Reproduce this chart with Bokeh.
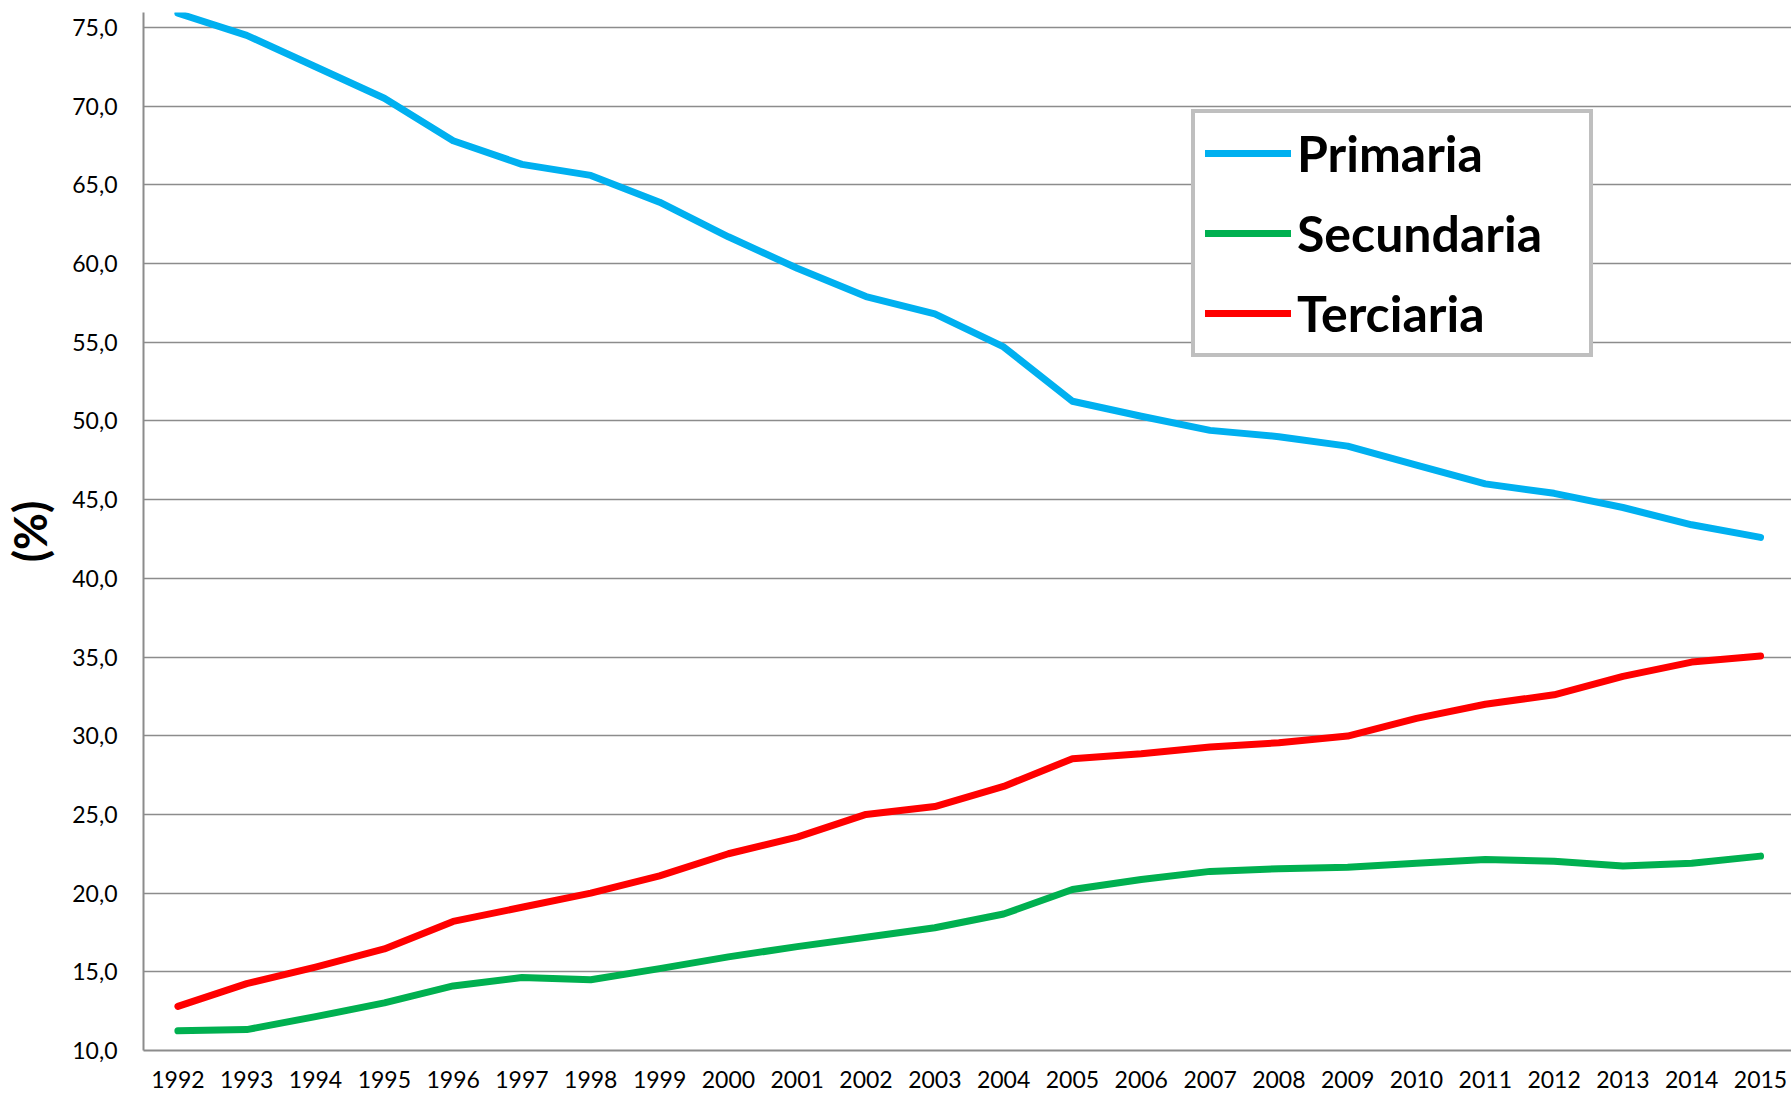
from bokeh.plotting import figure
from bokeh.models import Range1d, FixedTicker, Legend, LegendItem
from bokeh.embed import file_html
from bokeh.resources import INLINE

years = list(range(1992, 2016))
primaria = [75.9, 74.5, 72.5, 70.5, 67.8, 66.3, 65.6, 63.9, 61.7, 59.7, 57.9, 56.8,
            54.7, 51.25, 50.3, 49.4, 49.0, 48.4, 47.2, 46.0, 45.4, 44.5, 43.4, 42.6]
secundaria = [11.25, 11.33, 12.15, 13.03, 14.1, 14.64, 14.5, 15.2, 15.95, 16.6, 17.2, 17.8,
              18.67, 20.23, 20.87, 21.38, 21.55, 21.65, 21.9, 22.14, 22.03, 21.72, 21.9, 22.35]
terciaria = [12.8, 14.25, 15.3, 16.45, 18.2, 19.1, 20.0, 21.1, 22.5, 23.56, 25.0, 25.5,
             26.78, 28.54, 28.86, 29.28, 29.55, 29.98, 31.1, 32.0, 32.6, 33.77, 34.68, 35.06]
series_names = ["Primaria", "Secundaria", "Terciaria"]
series_colors = ["#00B0F0", "#00B050", "#FF0000"]
y_ticks = [10, 15, 20, 25, 30, 35, 40, 45, 50, 55, 60, 65, 70, 75]
y_labels = {t: f"{t:.1f}".replace(".", ",") for t in y_ticks}

FONT = "Lato"
GRAY = "#8c8c8c"

p = figure(width=1791, height=1099, output_backend="svg", toolbar_location=None,
           x_range=Range1d(1991.5, 2015.45), y_range=Range1d(10, 75.95),
           min_border_left=141, min_border_right=0, min_border_top=12, min_border_bottom=49)
p.outline_line_color = None
p.background_fill_color = "white"
p.border_fill_color = "white"

p.xgrid.visible = False
p.ygrid.ticker = FixedTicker(ticks=y_ticks)
p.ygrid.grid_line_color = GRAY
p.ygrid.grid_line_width = 1.5

p.yaxis.ticker = FixedTicker(ticks=y_ticks)
p.yaxis.major_label_overrides = y_labels
p.xaxis.ticker = FixedTicker(ticks=years)
p.xaxis.major_label_overrides = {y: str(y) for y in years}

for ax in (p.xaxis, p.yaxis):
    ax.axis_line_color = GRAY
    ax.axis_line_width = 2
    ax.major_tick_line_color = None
    ax.minor_tick_line_color = None
    ax.major_tick_out = 0
    ax.major_tick_in = 0
    ax.minor_tick_out = 0
    ax.major_label_text_font = FONT
    ax.major_label_text_font_size = "23px"
    ax.major_label_text_color = "black"

p.yaxis.major_label_standoff = 26
p.xaxis.major_label_standoff = 20
p.yaxis.axis_label = "(%)"
p.yaxis.axis_label_text_font = FONT
p.yaxis.axis_label_text_font_style = "bold"
p.yaxis.axis_label_text_font_size = "45px"
p.yaxis.axis_label_text_color = "black"
p.yaxis.axis_label_standoff = 12

renderers = []
for data, color in zip([primaria, secundaria, terciaria], series_colors):
    r = p.line(years, data, line_color=color, line_width=7,
               line_cap="round", line_join="round")
    renderers.append(r)

legend = Legend(items=[LegendItem(label=n, renderers=[r]) for n, r in zip(series_names, renderers)],
                location=(1048, 693))
legend.label_text_font = FONT
legend.label_text_font_style = "bold"
legend.label_text_font_size = "50px"
legend.label_text_color = "black"
legend.border_line_color = "#7f7f7f"
legend.border_line_width = 4
legend.background_fill_color = "white"
legend.background_fill_alpha = 1
legend.padding = 10
legend.spacing = 20
legend.margin = 0
legend.glyph_width = 86
legend.glyph_height = 58
legend.label_height = 58
legend.label_width = 282
legend.label_standoff = 6
p.add_layout(legend)

open("out.html", "w").write(file_html(p, INLINE))
